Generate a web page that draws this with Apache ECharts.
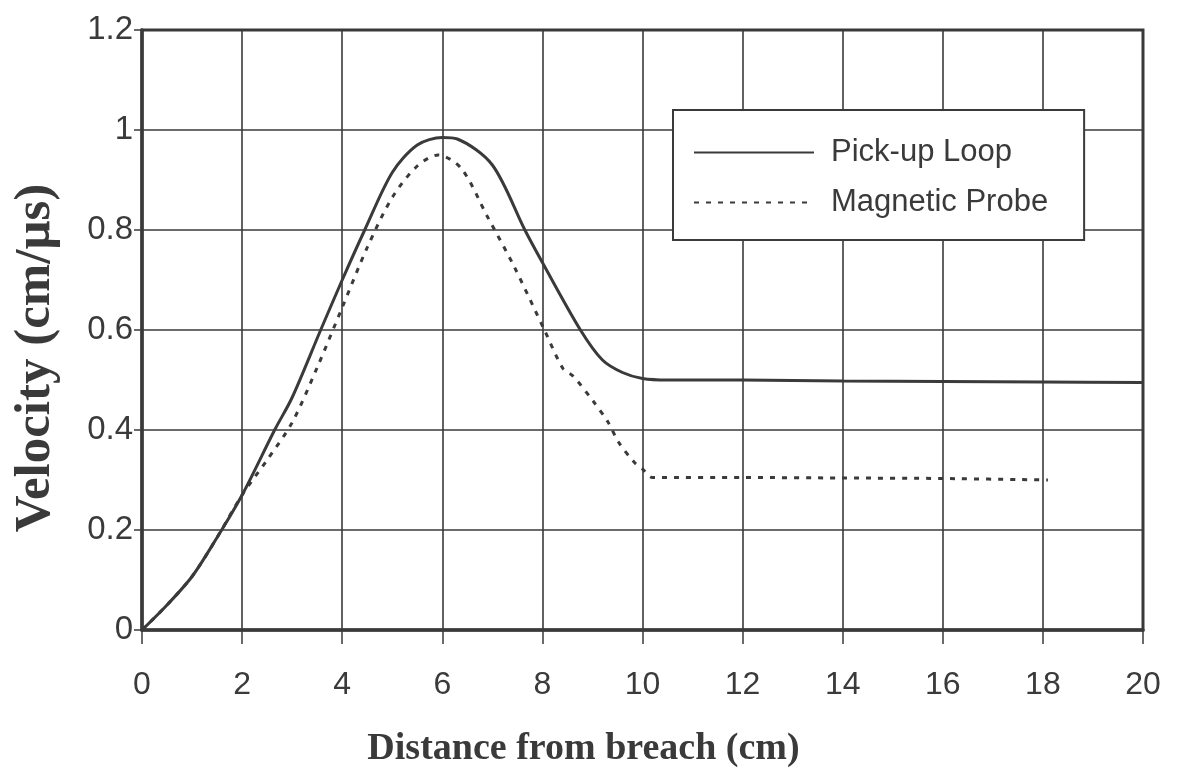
<!DOCTYPE html>
<html>
<head>
<meta charset="utf-8">
<script src="https://cdn.jsdelivr.net/npm/echarts@6/dist/echarts.min.js"></script>
<style>
  html, body { margin: 0; padding: 0; background: #ffffff; }
  #chart { width: 1177px; height: 780px; }
</style>
</head>
<body>
<div id="chart"></div>
<script>
// ---- Data ----
const xTicks = [0, 2, 4, 6, 8, 10, 12, 14, 16, 18, 20];
const yTicks = [0, 0.2, 0.4, 0.6, 0.8, 1, 1.2];

const seriesNames = ['Pick-up Loop', 'Magnetic Probe'];

const loopDistance = [0, 0.5, 1, 1.5, 2, 2.65, 3, 3.57, 4, 4.45, 5, 5.5, 6, 6.3, 7, 7.65, 8, 8.76, 9.2, 9.6, 10, 10.5, 12, 14, 16, 18, 20];
const loopVelocity = [0, 0.05, 0.107, 0.185, 0.27, 0.40, 0.465, 0.60, 0.70, 0.80, 0.915, 0.97, 0.985, 0.982, 0.93, 0.80, 0.735, 0.60, 0.54, 0.515, 0.503, 0.50, 0.50, 0.498, 0.497, 0.496, 0.495];

const probeDistance = [0, 0.5, 1, 1.5, 2, 2.5, 3, 3.5, 4, 4.5, 5, 5.5, 5.92, 6.38, 6.9, 7.43, 8.04, 8.41, 8.61, 9.02, 9.31, 9.52, 9.84, 10.0, 10.2, 12, 14, 16, 18.1];
const probeVelocity = [0, 0.05, 0.107, 0.185, 0.27, 0.34, 0.415, 0.525, 0.645, 0.765, 0.865, 0.928, 0.95, 0.923, 0.827, 0.728, 0.60, 0.523, 0.508, 0.457, 0.416, 0.376, 0.335, 0.322, 0.305, 0.305, 0.304, 0.303, 0.30];

function pairs(xs, ys) { return xs.map((x, i) => [x, ys[i]]); }

const ink = '#3a3a3a';
const chart = echarts.init(document.getElementById('chart'));
chart.setOption({
  backgroundColor: '#ffffff',
  animation: false,
  grid: {
    left: 142, right: 34, top: 30, bottom: 150,
    outerBoundsMode: 'none',
    containLabel: false,
    show: true, borderColor: ink, borderWidth: 3, backgroundColor: 'transparent'
  },
  legend: {
    data: seriesNames,
    orient: 'vertical',
    left: 673, top: 110,
    padding: [27, 36, 22, 20],
    itemWidth: 120, itemHeight: 24, itemGap: 19,
    itemStyle: { opacity: 0 },
    borderColor: ink, borderWidth: 2,
    backgroundColor: '#ffffff',
    textStyle: { fontFamily: 'Liberation Sans, Arial, sans-serif', fontSize: 31, color: ink, padding: [0, 0, 0, 12] }
  },
  xAxis: {
    type: 'value', min: 0, max: 20, interval: 2,
    name: 'Distance from breach (cm)',
    nameLocation: 'middle', nameGap: 100,
    nameTextStyle: { fontFamily: 'Liberation Serif, Times New Roman, serif', fontWeight: 'bold', fontSize: 38, color: ink, padding: [0, 118, 0, 0] },
    axisLine: { show: true, lineStyle: { color: ink, width: 3.5 } },
    axisTick: { show: true, inside: false, length: 14, lineStyle: { color: ink, width: 1.5 } },
    axisLabel: { margin: 39, fontFamily: 'Liberation Sans, Arial, sans-serif', fontSize: 32, color: ink },
    splitLine: { show: true, lineStyle: { color: ink, width: 1.6 } }
  },
  yAxis: {
    type: 'value', min: 0, max: 1.2, interval: 0.2,
    name: 'Velocity (cm/μs)',
    nameLocation: 'middle', nameGap: 81,
    nameTextStyle: { fontFamily: 'Liberation Serif, Times New Roman, serif', fontWeight: 'bold', fontSize: 51, color: ink, padding: [0, 56, 0, 0] },
    axisLine: { show: true, lineStyle: { color: ink, width: 3.5 } },
    axisTick: { show: true, inside: false, length: 8, lineStyle: { color: ink, width: 1.5 } },
    axisLabel: { margin: 9, fontFamily: 'Liberation Sans, Arial, sans-serif', fontSize: 33, color: ink,
      formatter: v => String(+v.toFixed(1)) },
    splitLine: { show: true, lineStyle: { color: ink, width: 1.6 } }
  },
  series: [
    {
      name: seriesNames[0], type: 'line', data: pairs(loopDistance, loopVelocity),
      symbol: 'none', smooth: 0.3, color: ink,
      lineStyle: { color: ink, width: 3, type: 'solid' }
    },
    {
      name: seriesNames[1], type: 'line', data: pairs(probeDistance, probeVelocity),
      symbol: 'none', smooth: 0.3, color: ink,
      lineStyle: { color: ink, width: 3, type: [5, 7] }
    }
  ]
});
</script>
</body>
</html>
